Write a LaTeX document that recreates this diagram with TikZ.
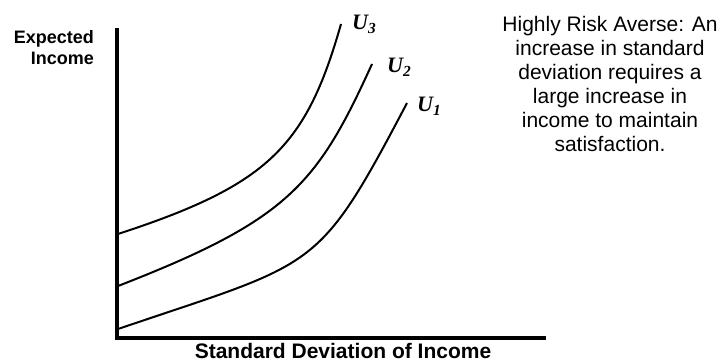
\documentclass[tikz,border=0pt]{standalone}
\usepackage{fontspec}
\setmainfont{Liberation Sans}
\newfontfamily\curvefont{Liberation Serif}
\begin{document}
\begin{tikzpicture}[
		x=1pt, y=1pt,
		axis/.style={line width=4pt},
		indiff/.style={line width=2pt},
		axislabel/.style={font=\fontsize{18}{21}\selectfont\bfseries, inner sep=0pt},
		ulabel/.style={font=\fontsize{22}{22}\selectfont\curvefont\bfseries\itshape, anchor=base west, inner sep=0pt},
		note/.style={font=\fontsize{21}{24}\selectfont, align=center, inner sep=0pt}
		]
		\useasboundingbox (0,0) rectangle (720,362);
		% Axes
		\coordinate (origin) at (117,24);
		\coordinate (ytop) at (117,334);
		\coordinate (xend) at (546,24);
		\draw[axis] (ytop) -- (origin) -- (xend);
		% Axis Labels
		\node[axislabel, anchor=north east, align=right] (ylabel) at (94,332) {Expected\\Income};
		\node[axislabel, font=\fontsize{21}{24}\selectfont\bfseries, anchor=base] (xlabel) at (343,4) {Standard Deviation of Income};
		% Indifference Curves
		\coordinate (u3start) at (118,128);
		\coordinate (u3end) at (341,338);
		\coordinate (u2start) at (118,76);
		\coordinate (u2end) at (372,298);
		\coordinate (u1start) at (118,33);
		\coordinate (u1end) at (407,259);
		\draw[indiff] (u3start) .. controls (268,177) and (306,215) .. (u3end);
		\draw[indiff] (u2start) .. controls (288,142) and (317,177) .. (u2end);
		\draw[indiff] (u1start) .. controls (318,101) and (317,88) .. (u1end);
		% Curve Labels
		\node[ulabel] (u3) at (352,332) {U\textsubscript{3}};
		\node[ulabel] (u2) at (387,289) {U\textsubscript{2}};
		\node[ulabel] (u1) at (417,250) {U\textsubscript{1}};
		% Note
		\node[note, anchor=north] (risknote) at (610,346) {Highly Risk Averse: An\\increase in standard\\deviation requires a\\large increase in\\income to maintain\\satisfaction.};
\end{tikzpicture}
\end{document}
